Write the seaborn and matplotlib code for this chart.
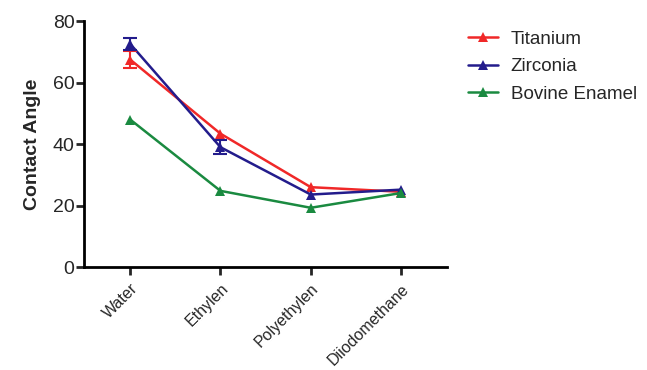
import numpy as np
import pandas as pd
import matplotlib
matplotlib.use("Agg")
import matplotlib.pyplot as plt
import seaborn as sns

# data
solvents = ["Water", "Ethylen", "Polyethylen", "Diiodomethane"]
titanium = [67.5, 43.4, 26.0, 24.5]
titanium_err = [2.7, 0.0, 0.0, 0.0]
zirconia = [72.6, 39.0, 23.6, 25.2]
zirconia_err = [2.0, 2.2, 0.0, 0.0]
enamel = [48.0, 24.8, 19.3, 24.1]
series_names = ["Titanium", "Zirconia", "Bovine Enamel"]
colors = ["#f02828", "#231c8c", "#1a8a40"]

df = pd.DataFrame({
    "Solvent": solvents * 3,
    "x": list(range(len(solvents))) * 3,
    "Angle": titanium + zirconia + enamel,
    "Material": [series_names[0]] * 4 + [series_names[1]] * 4 + [series_names[2]] * 4,
})

sns.set_style("ticks")
plt.rcParams["font.family"] = ["Liberation Sans", "DejaVu Sans"]

fig = plt.figure(figsize=(6.47, 3.70), dpi=100)
ax = fig.add_axes([0.13, 0.278, 0.561, 0.665])

sns.lineplot(data=df, x="x", y="Angle", hue="Material", palette=colors,
             marker="^", markersize=7, markeredgewidth=0, linewidth=1.8, ax=ax)

# error bars, only where the picture shows them
for vals, errs, c in [(titanium, titanium_err, colors[0]), (zirconia, zirconia_err, colors[1])]:
    idx = [i for i, e in enumerate(errs) if e > 0]
    ax.errorbar(idx, [vals[i] for i in idx], yerr=[errs[i] for i in idx], fmt="none",
                ecolor=c, elinewidth=1.5, capsize=5, capthick=1.5)

ax.set_xlim(-0.51, 3.51)
ax.set_ylim(0, 80)
ax.set_yticks([0, 20, 40, 60, 80])
ax.set_xticks(range(len(solvents)))
ax.set_xticklabels(solvents, rotation=45, ha="right", rotation_mode="anchor", fontsize=11.5)
ax.tick_params(axis="y", labelsize=14, width=2, length=6, pad=1)
ax.tick_params(axis="x", width=2, length=6, pad=4)
ax.set_xlabel("")
ax.set_ylabel("Contact Angle", fontsize=14, fontweight="bold", labelpad=8)
sns.despine(ax=ax)
for s in ["left", "bottom"]:
    ax.spines[s].set_linewidth(2)
    ax.spines[s].set_color("black")

ax.legend(loc="upper left", bbox_to_anchor=(1.01, 1.03), frameon=False,
          fontsize=13.5, handlelength=1.6, handletextpad=0.7, labelspacing=0.55, title=None)

fig.savefig("out.png", dpi=100)
